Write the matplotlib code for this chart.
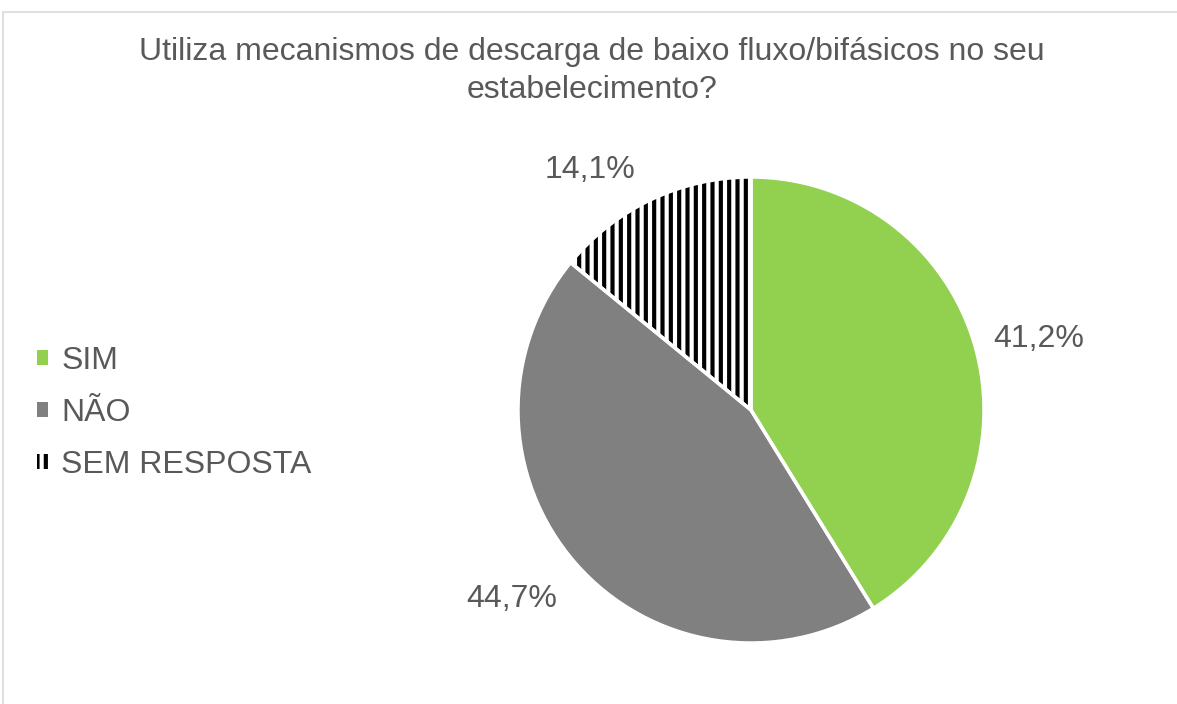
import numpy as np
import matplotlib.pyplot as plt
from matplotlib.patches import Rectangle

# data
categories = ["SIM", "NÃO", "SEM RESPOSTA"]
values = [41.2, 44.7, 14.1]
colors = ["#92D050", "#808080", "white"]
hatches = [None, None, "||"]
title = "Utiliza mecanismos de descarga de baixo fluxo/bifásicos no seu\nestabelecimento?"

# label placement (Excel "best fit" style): distance from centre, angle nudge
label_dist = [1.27, 1.31, 1.24]
label_nudge = [-2.0, -3.0, 8.5]

plt.rcParams['font.family'] = ['Liberation Sans', 'DejaVu Sans']
plt.rcParams['hatch.linewidth'] = 3.0

W, H = 1177, 704
fig = plt.figure(figsize=(W / 100, H / 100), dpi=100)

# chart border (light grey frame)
fig.add_artist(Rectangle((3 / W, -0.1), 1.2, (H - 12) / H + 0.1, transform=fig.transFigure,
                         fill=False, edgecolor="#D9D9D9", linewidth=1.2))

cx, cy, r = 751, 410, 233
ax = fig.add_axes([(cx - r) / W, (H - cy - r) / H, 2 * r / W, 2 * r / H])

# filled wedges (edge colour black so the hatch is drawn black)
wedges, texts = ax.pie(
    values, colors=colors, startangle=90, counterclock=False, radius=1,
    wedgeprops=dict(edgecolor="black", linewidth=0))
for w, h in zip(wedges, hatches):
    if h:
        w.set_hatch(h)
# white separators on top
ax.pie(values, startangle=90, counterclock=False, radius=1,
       wedgeprops=dict(fill=False, edgecolor="white", linewidth=2.5))

for w, v, d, n in zip(wedges, values, label_dist, label_nudge):
    ang = np.deg2rad((w.theta1 + w.theta2) / 2 + n)
    ax.text(d * np.cos(ang), d * np.sin(ang), f"{v:.1f}%".replace(".", ","),
            ha="center", va="center", fontsize=23, color="#595959")

ax.set_xlim(-1, 1)
ax.set_ylim(-1, 1)
ax.set_aspect("equal")
ax.axis("off")

fig.text(592 / W, 1 - 71 / H, title, ha="center", va="center", fontsize=23,
         color="#595959", linespacing=1.35)

fig.legend(wedges, categories, loc="center left", bbox_to_anchor=(21 / W, 1 - 413 / H),
           frameon=False, fontsize=23, labelcolor="#595959",
           handlelength=0.34, handleheight=0.34, handletextpad=0.42,
           labelspacing=0.70, borderpad=0)

fig.savefig("out.png", dpi=100)
